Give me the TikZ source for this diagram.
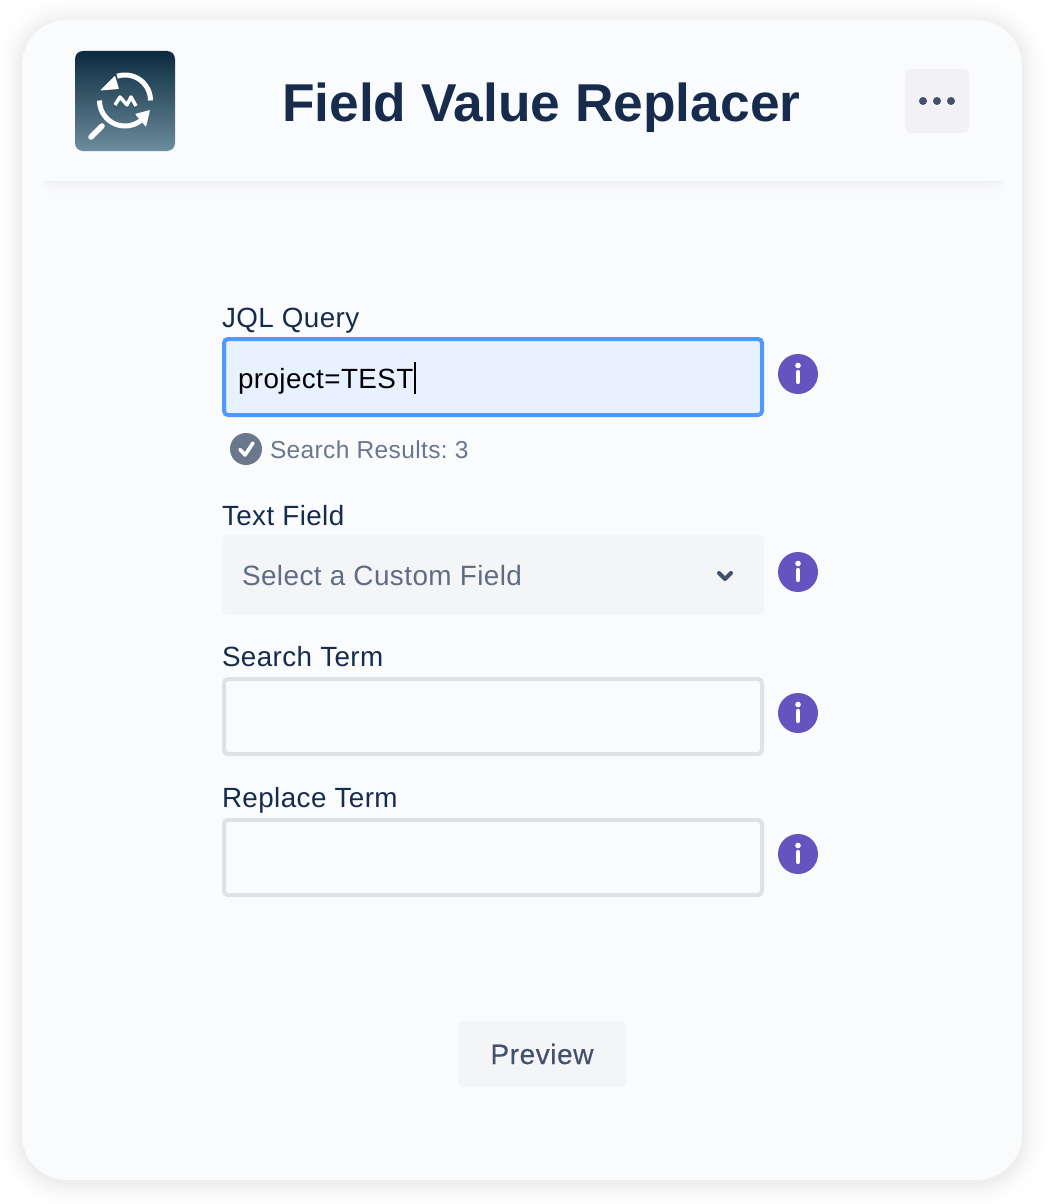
\documentclass[tikz,border=0pt]{standalone}
\usepackage{fontspec}
\setmainfont{Liberation Sans}
\newfontfamily\medfont[FakeBold=0.3,LetterSpace=2]{Liberation Sans}
\newfontfamily\uifont[LetterSpace=1.5]{Liberation Sans}
\usetikzlibrary{shadings}
\frenchspacing
\definecolor{cardbg}{HTML}{FAFBFD}
\definecolor{navy}{HTML}{172B4D}
\definecolor{slate}{HTML}{42526E}
\definecolor{muted}{HTML}{6B778C}
\definecolor{placeholder}{HTML}{5E6C84}
\definecolor{focus}{HTML}{4C9AFF}
\definecolor{focusbg}{HTML}{E8F1FF}
\definecolor{greyfill}{HTML}{F4F5F7}
\definecolor{greyline}{HTML}{E0E1E4}
\definecolor{violet}{HTML}{6554C0}
\definecolor{logotop}{HTML}{0B2A3E}
\definecolor{logobot}{HTML}{6C8D9E}
\tikzset{
  x=1pt,y=-1pt,
  txt/.style={inner sep=0pt,outer sep=0pt,anchor=base west},
  flabel/.style={txt,text=navy,font=\fontsize{27.8}{30}\uifont},
  inputbox/.style={draw=greyline,line width=4pt,fill=cardbg,rounded corners=4pt},
  infodot/.style={circle,fill=violet,minimum size=40pt,inner sep=0pt},
  logoline/.style={white,line width=5pt},
}
\newcommand{\infoicon}[2]{%
  \node[infodot] (#1) at (798,#2) {};
  \fill[white] (798,#2-8.5) circle (2.8);
  \draw[white,line width=4.2pt,line cap=round] (798,#2-2) -- (798,#2+8);
}
\begin{document}
\begin{tikzpicture}
\useasboundingbox (0,0) rectangle (1050,1204);
\fill[white] (0,0) rectangle (1050,1204);
% card shadow
\foreach \s in {28,27,...,1}{
  \pgfmathsetmacro{\p}{7.0*(1-\s/29)*(1-\s/29)}
  \pgfmathsetmacro{\r}{45+\s}
  \fill[black!\p!white,rounded corners=\r pt] (22-\s,20-\s+2) rectangle (1022+\s,1180+\s+2);
}
\node[draw=none,fill=cardbg,rounded corners=45pt,minimum width=1000pt,minimum height=1160pt,inner sep=0pt] (card) at (522,600) {};
% header shadow
\foreach \s in {16,15,...,1}{
  \pgfmathsetmacro{\p}{4.5*(1-\s/17)*(1-\s/17)}
  \fill[black!\p!cardbg,rounded corners=12pt] (46-\s*.6,170) rectangle (1000+\s*.6,181+\s);
}
\fill[cardbg] (30,120) rectangle (1014,181);
% logo
\node[rounded corners=8pt,minimum width=100pt,minimum height=100pt,inner sep=0pt,
  top color=logotop,bottom color=logobot,shading angle=0] (logo) at (125,101) {};
\draw[logoline] plot[domain=0:-108,samples=40] ({125+25.5*cos(\x)},{100.5+25.5*sin(\x)});
\draw[logoline] plot[domain=180:52,samples=40] ({125+25.5*cos(\x)},{100.5+25.5*sin(\x)});
\fill[white,rounded corners=.8pt] (100,90.5) -- (115,75.5) -- (119,89) -- cycle;
\fill[white,rounded corners=.8pt] (150,110) -- (135,114) -- (146,127) -- cycle;
\draw[white,line width=5.5pt,line cap=round] (91,137) -- (102,126);
\draw[logotop!55!logobot,line width=3.5pt,line join=round] (115,107) -- (120,99) -- (127,107) -- (131,99) -- (136,108);
\draw[white,line width=3.5pt,line join=round] (115,105) -- (120,97) -- (127,105) -- (131,97) -- (136,106);
% title
\node[txt,text=navy,font=\fontsize{53.3}{60}\selectfont\bfseries] (title) at (282,122) {Field Value Replacer};
% menu
\node[fill=greyfill!80!greyline!90!white,rounded corners=6pt,minimum size=64pt,inner sep=0pt] (menu) at (937,101) {};
\foreach \x in {923,937,951}{\fill[slate] (\x,101) circle (4);}
% JQL
\node[flabel] (jqllabel) at (222,327) {JQL Query};
\node[draw=focus,line width=4pt,fill=focusbg,rounded corners=4pt,minimum width=538pt,minimum height=76pt,inner sep=0pt] (jqlbox) at (493,377) {};
\node[txt,text=black,font=\fontsize{27.8}{30}\uifont] (jqltext) at (238,388) {project=TEST};
\draw[black,line width=1.4pt] (415,362) -- (415,394);
\infoicon{infoa}{374}
\node[circle,fill=muted,minimum size=32pt,inner sep=0pt] (okicon) at (246,449) {};
\draw[white,line width=3.6pt,line cap=round,line join=round] (240,449.5) -- (245,455) -- (253,443);
\node[txt,text=muted,font=\fontsize{24.5}{28}\uifont] (results) at (270,458) {Search Results: 3};
% Text field
\node[flabel] (textlabel) at (222,525) {Text Field};
\node[fill=greyfill,rounded corners=6pt,minimum width=542pt,minimum height=80pt,inner sep=0pt] (selectbox) at (493,575) {};
\node[txt,text=placeholder,font=\fontsize{27.9}{30}\uifont] (selecttext) at (242,585) {Select a Custom Field};
\draw[slate,line width=4pt,line cap=round,line join=round] (719,573) -- (725,579) -- (731,573);
\infoicon{infob}{572}
% Search term
\node[flabel] (searchlabel) at (222,666) {Search Term};
\node[inputbox,minimum width=538pt,minimum height=75pt,inner sep=0pt] (searchbox) at (493,716.5) {};
\infoicon{infoc}{713}
% Replace term
\node[flabel] (replacelabel) at (222,807) {Replace Term};
\node[inputbox,minimum width=538pt,minimum height=75pt,inner sep=0pt] (replacebox) at (493,857.5) {};
\infoicon{infod}{854}
% Preview
\node[fill=greyfill,rounded corners=5pt,minimum width=168pt,minimum height=66pt,inner sep=0pt] (preview) at (542,1054) {};
\node[txt,anchor=base,text=slate,font=\fontsize{28}{30}\medfont] (previewtext) at (542,1064) {Preview};
\end{tikzpicture}
\end{document}
